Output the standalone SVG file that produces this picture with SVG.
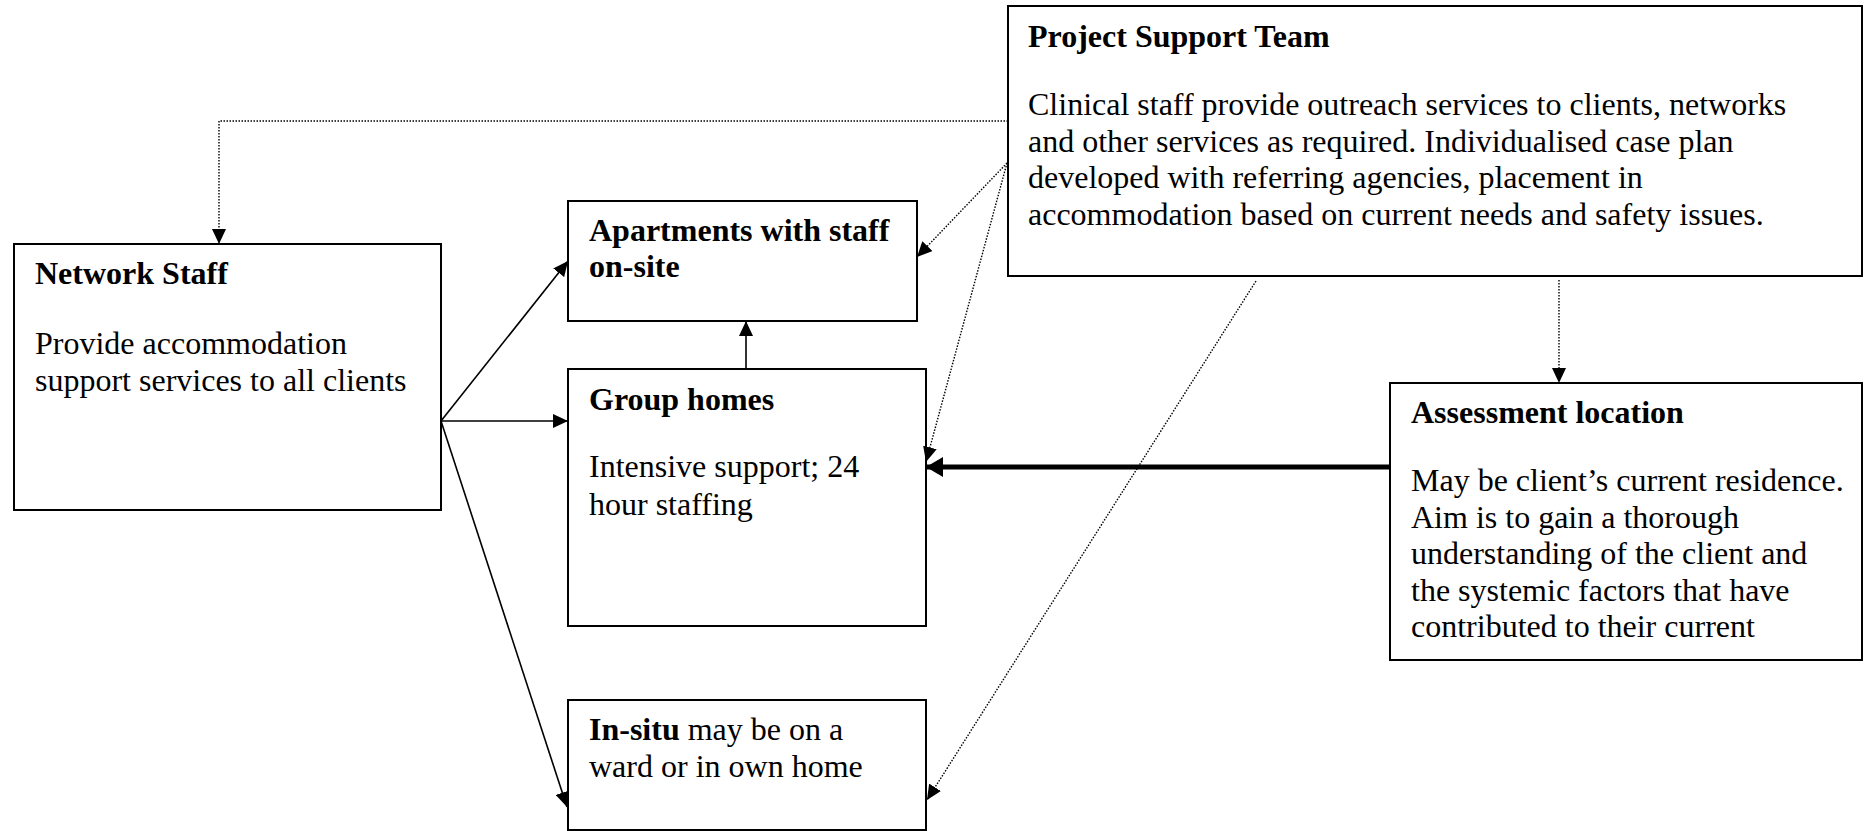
<svg xmlns="http://www.w3.org/2000/svg" width="1869" height="831" viewBox="0 0 1869 831">
<style>
.box{fill:#fff;stroke:#000;stroke-width:2}
text{font-family:"Liberation Serif","Times New Roman",serif;font-size:32px;fill:#000}
.b{font-weight:bold}
.solid{fill:none;stroke:#000;stroke-width:1.6}
.dot{fill:none;stroke:#000;stroke-width:1.4;stroke-dasharray:1.5 1.5}
.thick{fill:none;stroke:#000;stroke-width:5}
</style>
<defs>
<marker id="ah" markerUnits="userSpaceOnUse" markerWidth="16" markerHeight="14" refX="15" refY="7" orient="auto" viewBox="0 0 16 14">
<path d="M0,0 L15,7 L0,14 z" fill="#000"/>
</marker>
<marker id="ahT" markerUnits="userSpaceOnUse" markerWidth="18" markerHeight="20" refX="17" refY="10" orient="auto" viewBox="0 0 18 20">
<path d="M0,0 L17,10 L0,20 z" fill="#000"/>
</marker>
</defs>
<g id="network-staff">
<rect class="box" x="14" y="244" width="427" height="266"/>
<text class="b" x="35" y="284">Network Staff</text>
<text x="35" y="354">Provide accommodation</text>
<text x="35" y="391">support services to all clients</text>
</g>
<g id="apartments">
<rect class="box" x="568" y="201" width="349" height="120"/>
<text class="b" x="589" y="241">Apartments with staff</text>
<text class="b" x="589" y="277">on-site</text>
</g>
<g id="group-homes">
<rect class="box" x="568" y="369" width="358" height="257"/>
<text class="b" x="589" y="410">Group homes</text>
<text x="589" y="477">Intensive support; 24</text>
<text x="589" y="515">hour staffing</text>
</g>
<g id="in-situ">
<rect class="box" x="568" y="700" width="358" height="130"/>
<text x="589" y="740"><tspan class="b">In-situ</tspan> may be on a</text>
<text x="589" y="777">ward or in own home</text>
</g>
<g id="project-support-team">
<rect class="box" x="1008" y="6" width="854" height="270"/>
<text class="b" x="1028" y="47">Project Support Team</text>
<text x="1028" y="115">Clinical staff provide outreach services to clients, networks</text>
<text x="1028" y="152">and other services as required. Individualised case plan</text>
<text x="1028" y="188">developed with referring agencies, placement in</text>
<text x="1028" y="225">accommodation based on current needs and safety issues.</text>
</g>
<g id="assessment-location">
<rect class="box" x="1390" y="383" width="472" height="277"/>
<text class="b" x="1411" y="423">Assessment location</text>
<text x="1411" y="491">May be client’s current residence.</text>
<text x="1411" y="528">Aim is to gain a thorough</text>
<text x="1411" y="564">understanding of the client and</text>
<text x="1411" y="601">the systemic factors that have</text>
<text x="1411" y="637">contributed to their current</text>
</g>
<g id="connectors">
<path class="solid" d="M441,421 L568,261" marker-end="url(#ah)"/>
<path class="solid" d="M441,421 L568,421" marker-end="url(#ah)"/>
<path class="solid" d="M441,421 L567,807" marker-end="url(#ah)"/>
<path class="solid" d="M746,369 L746,321" marker-end="url(#ah)"/>
<path class="thick" d="M1390,467 L926,467" marker-end="url(#ahT)"/>
<path class="dot" d="M1008,121 H219 V244" marker-end="url(#ah)"/>
<path class="dot" d="M1007,163 L917,257" marker-end="url(#ah)"/>
<path class="dot" d="M1007,163 L926,462" marker-end="url(#ah)"/>
<path class="dot" d="M1256,281 L927,800" marker-end="url(#ah)"/>
<path class="dot" d="M1559,280 V383" marker-end="url(#ah)"/>
</g>
</svg>
